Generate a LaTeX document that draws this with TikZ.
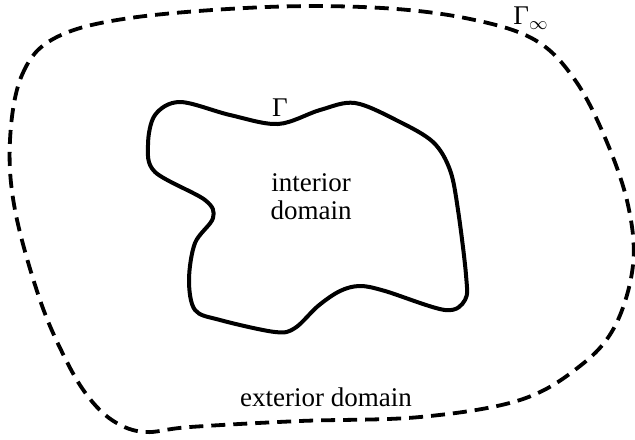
\documentclass[tikz,border=0pt]{standalone}
\usepackage{fontspec}
\setmainfont{Liberation Serif}
\usepackage{tikz}

\tikzset{
  boundary/.style={line width=2pt, line join=round},
  farfield/.style={line width=1.9pt, dash pattern=on 7pt off 4pt},
  domainlabel/.style={font=\fontsize{13.5}{14}\selectfont, align=center, inner sep=0pt}
}

\begin{document}
\begin{tikzpicture}[x=0.5pt, y=-0.5pt]
    \useasboundingbox (0,0) rectangle (635,439);
    \draw[farfield] plot [smooth cycle, tension=0.6] coordinates {
        (10,140) (22,75) (55,38) (130,18) (267,7) (382,8) (470,19)
        (535,40) (575,80) (606,140) (628,205) (633,265) (615,326)
        (580,366) (520,400) (420,417) (300,421) (190,427) (145,432)
        (115,422) (90,399) (67,362) (40,300) (15,210)};
    \draw[boundary] plot [smooth cycle, tension=0.55] coordinates {
        (180,102) (155,115) (148,145) (155,172) (205,200) (213,218)
        (195,243) (189,280) (195,310) (220,320) (275,332) (295,328)
        (318,306) (340,291) (360,286) (385,291) (445,310) (465,300)
        (466,275) (458,210) (450,170) (433,142) (398,121) (355,103)
        (320,110) (278,124) (230,115)};
    \node[domainlabel] (gamma) at (280,108) {Γ};
    \node[domainlabel] (gammainf) at (531,18) {Γ$_\infty$};
    \node[domainlabel] (interior) at (311,197) {interior\\domain};
    \node[domainlabel] (exterior) at (326,397) {exterior domain};
  \end{tikzpicture}
\end{document}
